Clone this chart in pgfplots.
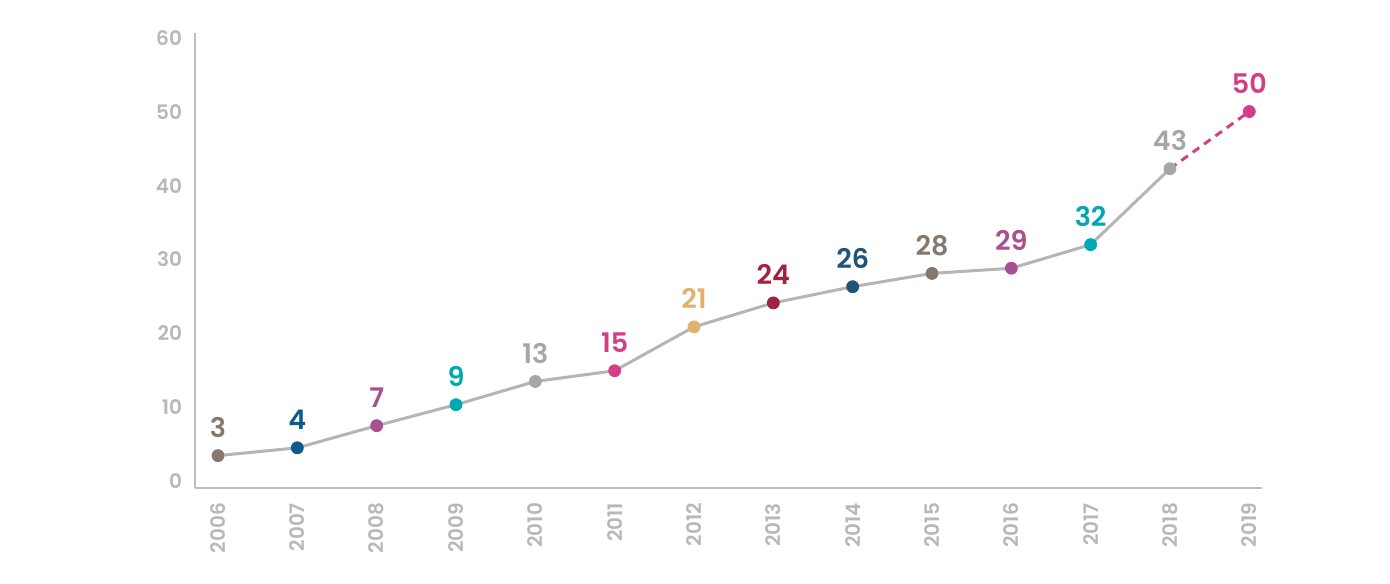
\documentclass[border=0pt]{standalone}
\usepackage{pgfplots}
\pgfplotsset{compat=1.18}
\usepackage{fontspec}
\setmainfont{Poppins}[BoldFont={Poppins SemiBold}]
\definecolor{axgray}{HTML}{BDBDBD}
\definecolor{tickgray}{HTML}{B8B8B8}
\definecolor{linegray}{HTML}{B5B5B5}
\definecolor{cBrown}{HTML}{857870}
\definecolor{cBlue}{HTML}{0E5A8F}
\definecolor{cNavy}{HTML}{1F5478}
\definecolor{cPurple}{HTML}{A9508F}
\definecolor{cTeal}{HTML}{00A7B5}
\definecolor{cGray}{HTML}{A6A6A6}
\definecolor{cPink}{HTML}{D33F87}
\definecolor{cGold}{HTML}{E2B26C}
\definecolor{cCrimson}{HTML}{A0233F}
\newcommand{\pt}[4]{\addplot[only marks, mark=*, mark size=3pt, color=#3,
  nodes near coords={#4},
  nodes near coords style={font=\bfseries\fontsize{13.5}{13.5}\selectfont, text=#3, anchor=center, yshift=14pt}]
  coordinates {(#1,#2)};}
\begin{document}
\begin{tikzpicture}
\path[use as bounding box] (-97.5pt,-47.5pt) rectangle (597.5pt,244pt);
\begin{axis}[
  scale only axis, width=533.5pt, height=227.5pt,
  xmin=2005.71, xmax=2019.16, ymin=-1, ymax=60.7,
  axis x line*=bottom, axis y line*=left,
  axis line style={axgray, line width=1pt, -},
  major tick length=0pt,
  xtick={2006,...,2019}, ytick={0,10,...,60},
  x tick label style={rotate=90, anchor=east, xshift=-4pt},
  y tick label style={anchor=east, xshift=-3pt},
  tick label style={font=\bfseries\fontsize{10}{10}\selectfont, text=tickgray},
  xticklabel={\pgfmathprintnumber[1000 sep={}]{\tick}},
  /pgf/number format/assume math mode=true,
  /pgf/number format/1000 sep={},
  clip=false,
]
\addplot[linegray, line width=1.5pt, mark=none] coordinates {
(2006,3.39) (2007,4.45) (2008,7.45) (2009,10.3) (2010,13.45) (2011,14.9)
(2012,20.85) (2013,24.1) (2014,26.3) (2015,28.1) (2016,28.8) (2017,32.0) (2018,42.3)};
\addplot[cPink, line width=1.5pt, dash pattern=on 4pt off 3pt, mark=none] coordinates {(2018,42.3) (2019,50.05)};
\pt{2006}{3.39}{cBrown}{3}
\pt{2007}{4.45}{cBlue}{4}
\pt{2008}{7.45}{cPurple}{7}
\pt{2009}{10.3}{cTeal}{9}
\pt{2010}{13.45}{cGray}{13}
\pt{2011}{14.9}{cPink}{15}
\pt{2012}{20.85}{cGold}{21}
\pt{2013}{24.1}{cCrimson}{24}
\pt{2014}{26.3}{cNavy}{26}
\pt{2015}{28.1}{cBrown}{28}
\pt{2016}{28.8}{cPurple}{29}
\pt{2017}{32.0}{cTeal}{32}
\pt{2018}{42.3}{cGray}{43}
\pt{2019}{50.05}{cPink}{50}
\end{axis}
\end{tikzpicture}
\end{document}
